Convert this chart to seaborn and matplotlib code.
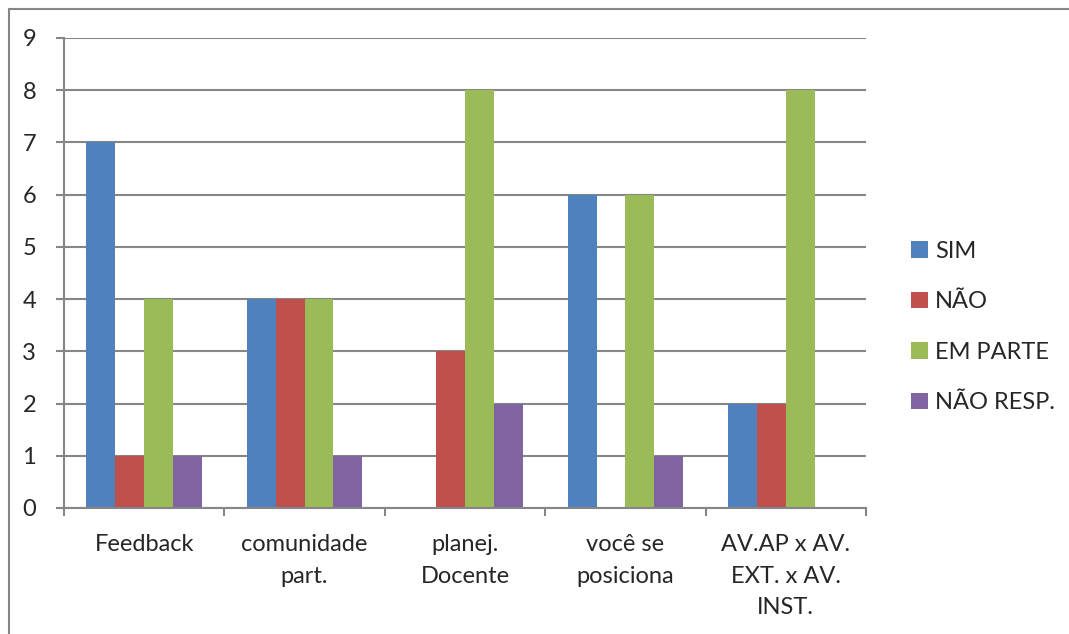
import pandas as pd
import seaborn as sns
import matplotlib.pyplot as plt
from matplotlib.patches import Rectangle

categories = ["Feedback", "comunidade\npart.", "planej.\nDocente", "você se\nposiciona",
              "AV.AP x AV.\nEXT. x AV.\nINST."]
series = ["SIM", "NÃO", "EM PARTE", "NÃO RESP."]
sim = [7, 4, 0, 6, 2]
nao = [1, 4, 3, 0, 2]
em_parte = [4, 4, 8, 6, 8]
nao_resp = [1, 1, 2, 1, 0]
colors = ["#4F81BD", "#C0504D", "#9BBB59", "#8064A2"]

rows = []
for name, vals in zip(series, [sim, nao, em_parte, nao_resp]):
    for cat, v in zip(categories, vals):
        rows.append({"cat": cat, "serie": name, "valor": v})
df = pd.DataFrame(rows)

sns.set_theme(style="white")
plt.rcParams['font.family'] = ['Lato', 'DejaVu Sans']
grid_c = "#868686"
fs = 17

fig = plt.figure(figsize=(10.69, 6.34), dpi=100)
ax = fig.add_axes([64 / 1069, 1 - 508 / 634, (866 - 64) / 1069, (508 - 38) / 634])

sns.barplot(data=df, x="cat", y="valor", hue="serie", order=categories, hue_order=series,
            palette=colors, width=0.72, gap=0, saturation=1, linewidth=0, ax=ax, legend=True)

ax.set_ylim(0, 9)
ax.set_xlim(-0.5, 4.5)
ax.set_yticks(range(0, 10))
ax.yaxis.grid(True, color=grid_c, linewidth=1.5)
ax.set_axisbelow(True)
ax.set_xlabel("")
ax.set_ylabel("")
for s in ["top", "right"]:
    ax.spines[s].set_visible(False)
for s in ["left", "bottom"]:
    ax.spines[s].set_color(grid_c)
    ax.spines[s].set_linewidth(1.5)

ax.tick_params(axis="y", which="major", direction="out", length=6, width=1.5, color=grid_c,
               labelsize=fs, pad=14, left=True)
ax.tick_params(axis="x", which="major", length=0, labelsize=fs, pad=19)
ax.set_xticks([i - 0.5 for i in range(6)], minor=True)
ax.tick_params(axis="x", which="minor", direction="out", length=6, width=1.5, color=grid_c, bottom=True)
for lbl in ax.get_xticklabels():
    lbl.set_linespacing(1.6)

leg = ax.legend(loc="center left", bbox_to_anchor=(902 / 1069, 1 - 327 / 634),
                bbox_transform=fig.transFigure, frameon=False, fontsize=fs,
                handlelength=0.7, handleheight=0.7, handletextpad=0.3, labelspacing=1.25,
                borderaxespad=0)

fig.patches.append(Rectangle((9 / 1069, -0.1), 1.2, 1 - 9 / 634 + 0.1, transform=fig.transFigure,
                             fill=False, edgecolor=grid_c, linewidth=1.5, figure=fig))

plt.savefig("out.png", dpi=100)
